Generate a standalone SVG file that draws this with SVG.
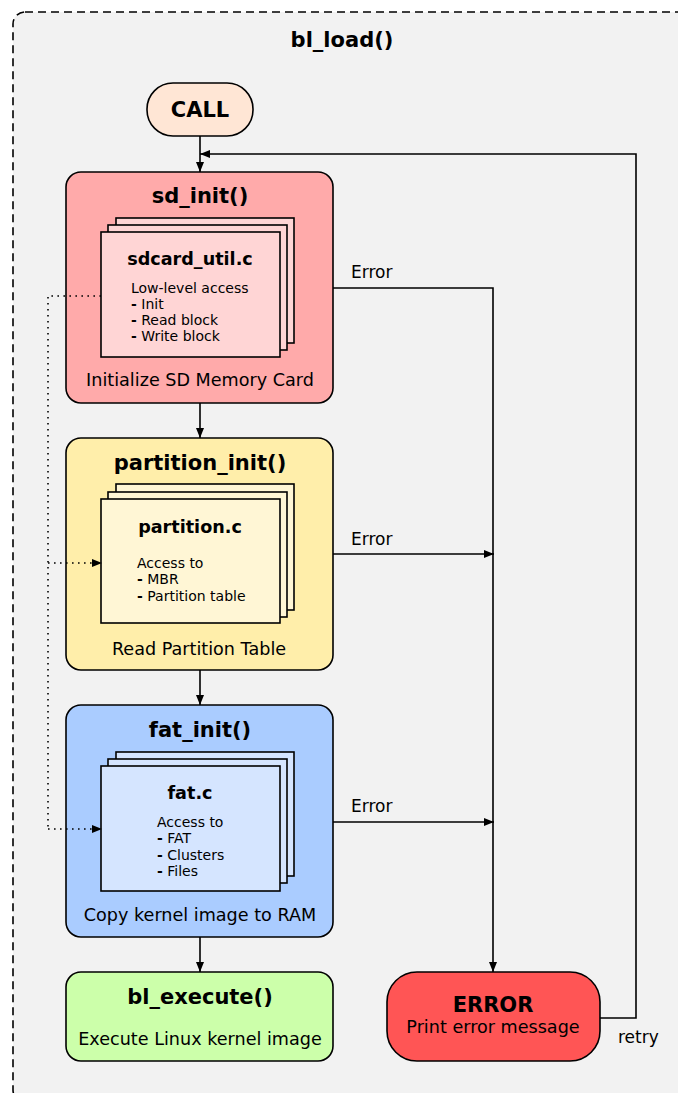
<svg xmlns="http://www.w3.org/2000/svg" width="678" height="1093" viewBox="0 0 678 1093">
<style>
text{font-family:"DejaVu Sans","Liberation Sans",sans-serif;fill:#000}
.t{font-size:21px;font-weight:bold;text-anchor:middle}
.f{font-size:17.6px;font-weight:bold;text-anchor:middle}
.s{font-size:17.6px;text-anchor:middle}
.l{font-size:14px}
.b{font-weight:bold}
.e{font-size:17px}
.box{stroke:#000;stroke-width:1.6}
.pg{stroke:#000;stroke-width:1.6}
.c{fill:none;stroke:#000;stroke-width:1.6}
.d{fill:none;stroke:#000;stroke-width:1.6;stroke-dasharray:1.6,4.4}
</style>
<defs>
<marker id="a" viewBox="0 0 10 8" refX="10" refY="4" markerWidth="10" markerHeight="8" markerUnits="userSpaceOnUse" orient="auto">
<path d="M0,0 L10,4 L0,8 Z" fill="#000"/>
</marker>
</defs>
<rect x="13" y="12" width="680" height="1090" rx="12" fill="#f2f2f2" stroke="#000" stroke-width="1.6" stroke-dasharray="8,5"/>
<text class="t" x="342" y="47">bl_load()</text>

<g id="connectors">
<path class="c" d="M200,136 V172" marker-end="url(#a)"/>
<path class="c" d="M200,403 V438" marker-end="url(#a)"/>
<path class="c" d="M200,670 V705" marker-end="url(#a)"/>
<path class="c" d="M200,937 V972" marker-end="url(#a)"/>
<path class="c" d="M333,288 H493 V972" marker-end="url(#a)"/>
<path class="c" d="M333,554 H494" marker-end="url(#a)"/>
<path class="c" d="M333,822 H494" marker-end="url(#a)"/>
<path class="c" d="M600,1018 H636 V154 H200" marker-end="url(#a)"/>
<text class="e" x="351" y="278">Error</text>
<text class="e" x="351" y="545">Error</text>
<text class="e" x="351" y="812">Error</text>
<text class="e" x="618" y="1043">retry</text>
</g>

<g id="call">
<rect class="box" x="147" y="83" width="106" height="53" rx="26" fill="#ffe6d5"/>
<text class="t" x="200" y="117">CALL</text>
</g>

<g id="sd_init">
<rect class="box" x="66" y="172" width="267" height="231" rx="15" fill="#ffaaaa"/>
<text class="t" x="200" y="203">sd_init()</text>
<rect class="pg" x="116" y="218" width="178" height="125" fill="#ffd5d5"/>
<rect class="pg" x="108" y="225" width="179" height="125" fill="#ffd5d5"/>
<rect class="pg" x="101" y="232" width="179" height="125" fill="#ffd5d5"/>
<text class="f" x="190" y="265">sdcard_util.c</text>
<text class="l" x="131" y="293">Low-level access</text>
<text class="l" x="131" y="309"><tspan class="b">-</tspan> Init</text>
<text class="l" x="131" y="325"><tspan class="b">-</tspan> Read block</text>
<text class="l" x="131" y="341"><tspan class="b">-</tspan> Write block</text>
<text class="s" x="200" y="386">Initialize SD Memory Card</text>
</g>

<g id="partition_init">
<rect class="box" x="66" y="438" width="267" height="232" rx="15" fill="#ffeeaa"/>
<text class="t" x="200" y="470">partition_init()</text>
<rect class="pg" x="116" y="484" width="178" height="126" fill="#fff6d5"/>
<rect class="pg" x="108" y="492" width="179" height="125" fill="#fff6d5"/>
<rect class="pg" x="101" y="499" width="179" height="124" fill="#fff6d5"/>
<text class="f" x="190" y="533">partition.c</text>
<text class="l" x="137" y="568">Access to</text>
<text class="l" x="137" y="584"><tspan class="b">-</tspan> MBR</text>
<text class="l" x="137" y="601"><tspan class="b">-</tspan> Partition table</text>
<text class="s" x="199" y="655">Read Partition Table</text>
</g>

<g id="fat_init">
<rect class="box" x="66" y="705" width="267" height="232" rx="15" fill="#aaccff"/>
<text class="t" x="200" y="737">fat_init()</text>
<rect class="pg" x="116" y="752" width="178" height="124" fill="#d5e5ff"/>
<rect class="pg" x="108" y="759" width="179" height="124" fill="#d5e5ff"/>
<rect class="pg" x="101" y="766" width="179" height="125" fill="#d5e5ff"/>
<text class="f" x="190" y="799">fat.c</text>
<text class="l" x="157" y="827">Access to</text>
<text class="l" x="157" y="843"><tspan class="b">-</tspan> FAT</text>
<text class="l" x="157" y="860"><tspan class="b">-</tspan> Clusters</text>
<text class="l" x="157" y="876"><tspan class="b">-</tspan> Files</text>
<text class="s" x="200" y="921">Copy kernel image to RAM</text>
</g>

<g id="bl_execute">
<rect class="box" x="66" y="972" width="267" height="89" rx="15" fill="#ccffaa"/>
<text class="t" x="200" y="1004">bl_execute()</text>
<text class="s" x="200" y="1045">Execute Linux kernel image</text>
</g>

<g id="error">
<rect class="box" x="387" y="972" width="213" height="89" rx="30" fill="#ff5555"/>
<text class="t" x="493" y="1012">ERROR</text>
<text class="s" x="493" y="1033">Print error message</text>
</g>

<g id="dotted">
<path class="d" d="M101,296 H48 V829"/>
<path class="d" d="M48,563 H102" marker-end="url(#a)"/>
<path class="d" d="M48,829 H102" marker-end="url(#a)"/>
</g>
</svg>
